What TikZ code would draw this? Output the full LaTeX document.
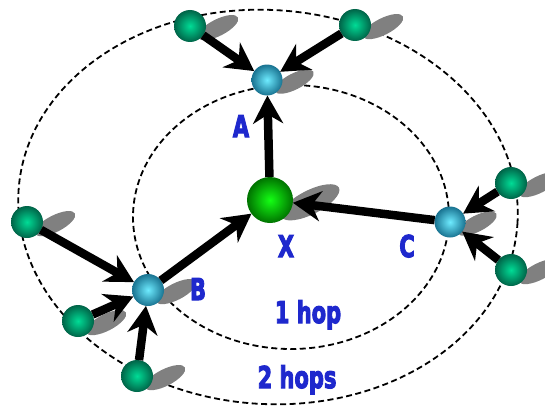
\documentclass[tikz,border=0pt]{standalone}
\usepackage{fontspec}
\setmainfont{DejaVu Sans}
\newfontfamily\lblfont[BoldFont={DejaVu Sans Bold}, BoldFeatures={FakeBold=4}]{DejaVu Sans}
\usetikzlibrary{arrows.meta}
\definecolor{lblblue}{RGB}{30,40,205}
\definecolor{tealin}{RGB}{0,220,150}
\definecolor{tealout}{RGB}{0,100,72}
\definecolor{bluein}{RGB}{110,235,255}
\definecolor{blueout}{RGB}{25,115,145}
\definecolor{grnin}{RGB}{20,255,20}
\definecolor{grnout}{RGB}{0,115,0}
\definecolor{shadowgray}{RGB}{128,128,128}
\newcommand\lbltext[1]{\scalebox{0.7}[1]{\fontsize{30}{30}\lblfont\bfseries #1}}
\newcommand\shadowof[2]{%
  \begin{scope}[shift={(#1)}, scale=#2]
    \fill[shadowgray, rotate around={27:(1.75,-0.1)}] (1.75,-0.1) ellipse [x radius=1.4, y radius=0.52];
  \end{scope}}
\begin{document}
\begin{tikzpicture}[x=1pt,y=1pt,
  hopring/.style={black, line width=1.8pt, dash pattern=on 6pt off 3.5pt},
  farnode/.style={circle, inner sep=0pt, outer sep=0pt, minimum size=32pt, inner color=tealin, outer color=tealout},
  relaynode/.style={circle, inner sep=0pt, outer sep=0pt, minimum size=31pt, inner color=bluein, outer color=blueout},
  srcnode/.style={circle, inner sep=0pt, outer sep=0pt, minimum size=46pt, inner color=grnin, outer color=grnout},
  arr/.style={line width=8.5pt, -{Stealth[length=28pt, width=30pt, inset=9pt]}},
  lbl/.style={text=lblblue, anchor=base, inner sep=0pt}]
\useasboundingbox (0,0) rectangle (545,408);
% positions
\coordinate (pX) at (270,208);
\coordinate (pA) at (267,328);
\coordinate (pB) at (148,118);
\coordinate (pC) at (450,186);
\coordinate (pTL) at (190,382);
\coordinate (pTR) at (355,383);
\coordinate (pRU) at (511,225);
\coordinate (pRL) at (511,138);
\coordinate (pL) at (27,186);
\coordinate (pLL) at (78,87);
\coordinate (pBot) at (137,32);
% hop rings
\draw[hopring, rotate around={-4:(268,201)}] (268,201) ellipse [x radius=250, y radius=197];
\draw[hopring] (291,191) ellipse [x radius=158, y radius=132];
% shadows
\shadowof{pX}{23}
\shadowof{pA}{15.5}
\shadowof{pB}{16}
\shadowof{pC}{15.5}
\shadowof{pTL}{16}
\shadowof{pTR}{16}
\shadowof{pRU}{16}
\shadowof{pRL}{16}
\shadowof{pL}{16}
\shadowof{pLL}{16}
\shadowof{pBot}{16}
% spheres
\node[srcnode] (X) at (pX) {};
\node[relaynode] (A) at (pA) {};
\node[relaynode, minimum size=32pt] (B) at (pB) {};
\node[relaynode] (C) at (pC) {};
\node[farnode] (TL) at (pTL) {};
\node[farnode] (TR) at (pTR) {};
\node[farnode] (RU) at (pRU) {};
\node[farnode] (RL) at (pRL) {};
\node[farnode] (L) at (pL) {};
\node[farnode] (LL) at (pLL) {};
\node[farnode] (Bot) at (pBot) {};
% arrows
\draw[arr] (X) -- (A);
\draw[arr] (B) -- (X);
\draw[arr] (C) -- (X);
\draw[arr] (TL) -- (A);
\draw[arr] (TR) -- (A);
\draw[arr] (RU) -- (C);
\draw[arr] (RL) -- (C);
\draw[arr] (L) -- (B);
\draw[arr] (LL) -- (B);
\draw[arr] (Bot) -- (B);
% labels
\node[lbl] (tA) at (241,271) {\lbltext{A}};
\node[lbl] (tB) at (198,108) {\lbltext{B}};
\node[lbl] (tX) at (286,151) {\lbltext{X}};
\node[lbl] (tC) at (407,151) {\lbltext{C}};
\node[lbl] (t1) at (308,85) {\lbltext{1 hop}};
\node[lbl] (t2) at (297,20) {\lbltext{2 hops}};
\end{tikzpicture}
\end{document}
